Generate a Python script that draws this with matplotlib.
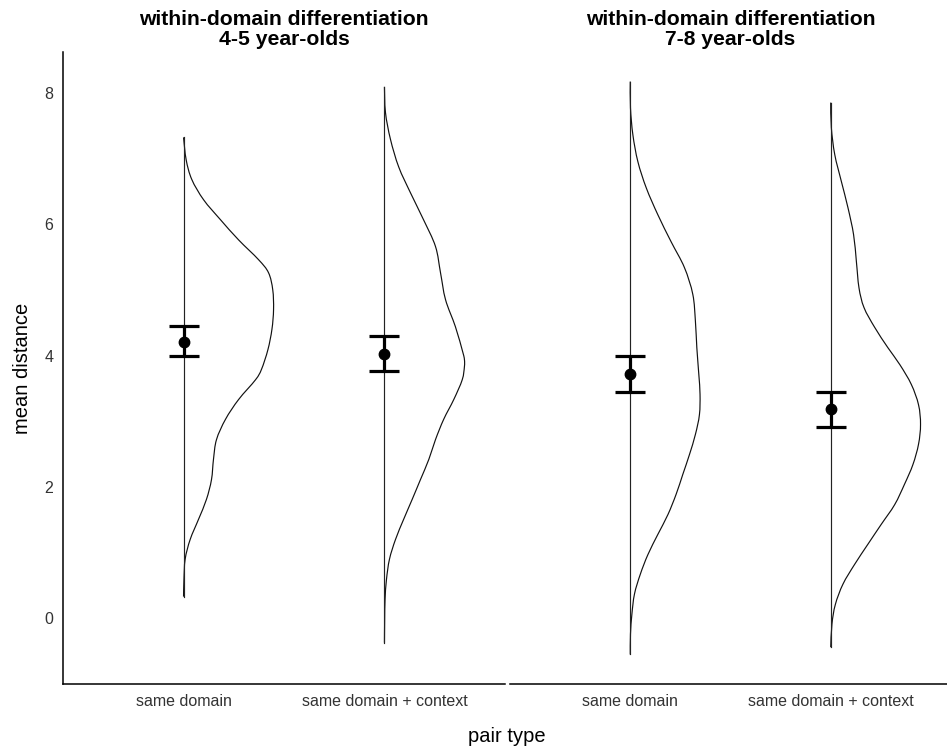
import matplotlib
matplotlib.use("Agg")
import matplotlib.pyplot as plt
from matplotlib.path import Path
from matplotlib.patches import PathPatch
import numpy as np

plt.rcParams['font.family'] = ['Liberation Sans', 'DejaVu Sans']

# ---------------- data ----------------
panels = ["within-domain differentiation\n4-5 year-olds",
          "within-domain differentiation\n7-8 year-olds"]
categories = ["same domain", "same domain + context"]

# group means and error bar limits per panel, per category
means = [[4.21, 4.03], [3.72, 3.18]]
err_hi = [[4.45, 4.29], [4.00, 3.45]]
err_lo = [[3.99, 3.77], [3.44, 2.91]]

# half-violin outlines: y values and half-width (x data units)
v45_same_y = [7.32, 6.98, 6.68, 6.37, 6.07, 5.76, 5.46, 5.26, 5.00, 4.70, 4.40, 4.09,
              3.79, 3.63, 3.33, 3.03, 2.72, 2.42, 2.11, 1.81, 1.51, 1.20, 0.90, 0.59, 0.33]
v45_same_w = [0.000, 0.013, 0.041, 0.100, 0.183, 0.274, 0.373, 0.423, 0.444, 0.448, 0.440, 0.420,
              0.388, 0.358, 0.274, 0.209, 0.164, 0.149, 0.139, 0.114, 0.075, 0.033, 0.008, 0.002, 0.000]

v45_ctx_y = [8.09, 7.70, 7.29, 6.87, 6.48, 6.07, 5.66, 5.26, 4.85, 4.44, 4.05, 3.94,
             3.83, 3.63, 3.33, 3.03, 2.72, 2.42, 2.11, 1.81, 1.51, 1.20, 0.90, 0.59, 0.29, -0.02, -0.37]
v45_ctx_w = [0.000, 0.005, 0.030, 0.071, 0.129, 0.194, 0.254, 0.279, 0.304, 0.353, 0.390, 0.398,
             0.398, 0.387, 0.345, 0.295, 0.254, 0.221, 0.179, 0.138, 0.096, 0.055, 0.025, 0.010, 0.003, 0.001, 0.000]

v78_same_y = [8.17, 7.77, 7.36, 6.95, 6.55, 6.14, 5.73, 5.34, 4.93, 4.52, 4.12, 3.71, 3.41,
              3.10, 2.80, 2.49, 2.19, 1.89, 1.58, 1.28, 0.97, 0.67, 0.37, 0.06, -0.24, -0.55]
v78_same_w = [0.000, 0.001, 0.013, 0.038, 0.080, 0.138, 0.204, 0.270, 0.312, 0.325, 0.332, 0.342, 0.348,
              0.345, 0.325, 0.295, 0.262, 0.229, 0.188, 0.138, 0.088, 0.050, 0.021, 0.008, 0.001, 0.000]

v78_ctx_y = [7.85, 7.47, 7.06, 6.65, 6.25, 5.84, 5.43, 5.03, 4.73, 4.43, 4.12, 3.86, 3.56,
             3.25, 2.95, 2.65, 2.34, 2.04, 1.73, 1.43, 1.13, 0.82, 0.52, 0.21, -0.09, -0.44]
v78_ctx_w = [0.000, 0.003, 0.020, 0.053, 0.086, 0.114, 0.128, 0.141, 0.166, 0.219, 0.285, 0.345, 0.402,
             0.438, 0.448, 0.438, 0.410, 0.368, 0.319, 0.252, 0.186, 0.119, 0.061, 0.023, 0.006, 0.000]

violins = [[(v45_same_y, v45_same_w), (v45_ctx_y, v45_ctx_w)],
           [(v78_same_y, v78_same_w), (v78_ctx_y, v78_ctx_w)]]

y_ticks = [0, 2, 4, 6, 8]

# ---------------- figure ----------------
W, H = 947, 747
fig = plt.figure(figsize=(W / 100, H / 100), dpi=100)

def px_axes(x0, x1, y_top, y_bot):
    return fig.add_axes([x0 / W, 1 - y_bot / H, (x1 - x0) / W, (y_bot - y_top) / H])

def smooth_path(xs, ys):
    """Bezier path through the read points (Catmull-Rom style control points)."""
    P = np.column_stack([xs, ys])
    n = len(P)
    verts = [P[0]]
    codes = [Path.MOVETO]
    for i in range(n - 1):
        p0 = P[max(i - 1, 0)]
        p1 = P[i]
        p2 = P[i + 1]
        p3 = P[min(i + 2, n - 1)]
        c1 = p1 + (p2 - p0) / 6.0
        c2 = p2 - (p3 - p1) / 6.0
        verts += [c1, c2, p2]
        codes += [Path.CURVE4] * 3
    return Path(verts, codes)

axes = [px_axes(63, 505, 52, 684), px_axes(510, 951, 52, 684)]

for pi, ax in enumerate(axes):
    xs = np.arange(1, len(categories) + 1)
    for ci, cx in enumerate(xs):
        vy, vw = violins[pi][ci]
        vy = np.asarray(vy)
        vw = np.asarray(vw)
        ax.add_patch(PathPatch(smooth_path(cx + vw, vy), facecolor="none",
                               edgecolor="#111111", lw=0.85, zorder=2))
        ax.plot([cx, cx], [vy.min(), vy.max()], color="#222222", lw=0.85, zorder=3)
        m = means[pi][ci]
        ax.errorbar([cx], [m], yerr=[[m - err_lo[pi][ci]], [err_hi[pi][ci] - m]],
                    fmt="o", color="black", ms=7.5, elinewidth=2.3, capsize=10.5,
                    capthick=2.3, zorder=4)
    ax.set_xlim(0.4, 2.6)
    ax.set_ylim(-1, 8.62)
    ax.set_xticks(xs)
    ax.set_xticklabels(categories, fontsize=11.5, color="#333333")
    ax.tick_params(axis="both", length=0, pad=7)
    ax.set_title(panels[pi], fontsize=15.2, fontweight="bold", pad=5, linespacing=1.08)
    for s in ["top", "right"]:
        ax.spines[s].set_visible(False)
    ax.spines["bottom"].set_linewidth(1.1)
    ax.spines["left"].set_linewidth(1.1)
    ax.set_facecolor("none")

axes[0].set_yticks(y_ticks)
axes[0].set_yticklabels([str(t) for t in y_ticks], fontsize=11.5, color="#333333")
axes[0].set_ylabel("mean distance", fontsize=14.5, labelpad=9)
axes[1].set_yticks([])
axes[1].spines["left"].set_visible(False)

fig.text(507 / W, 1 - 737 / H, "pair type", fontsize=14.5, ha="center", va="center")

fig.savefig("out.png", dpi=100)
